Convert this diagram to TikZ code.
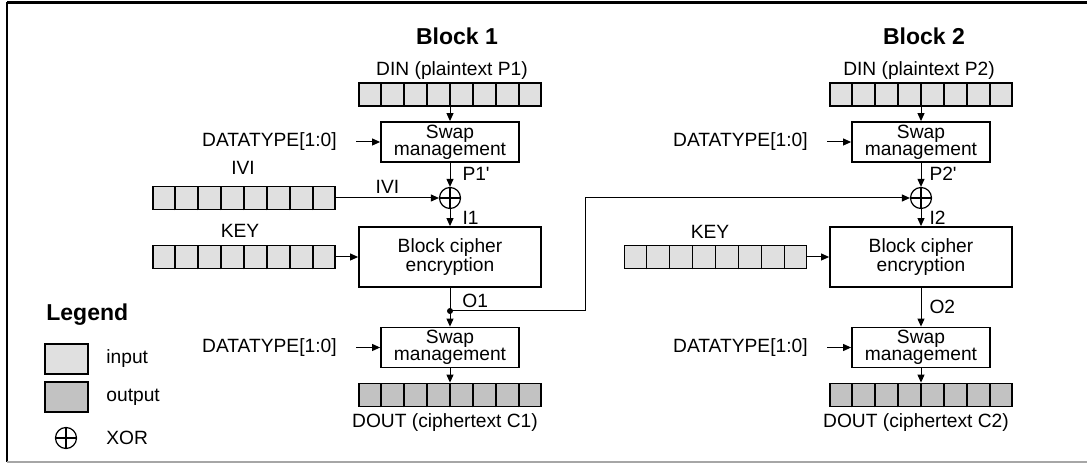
\documentclass[tikz,border=0pt]{standalone}
\usepackage{fontspec}
\setmainfont{Liberation Sans}
\usepackage{tikz}
\usetikzlibrary{%
  calc,%
  arrows.meta%
}
\definecolor{ingray}{gray}{0.88}
\definecolor{outgray}{gray}{0.76}
\definecolor{framegray}{gray}{0.65}
\tikzset{
  reg/.style={draw,line width=0.9pt,minimum width=91pt,minimum height=11.5pt,inner sep=0pt},
  unit/.style={draw,line width=0.9pt,fill=white,align=center,inner sep=0pt},
  swapbox/.style={unit,minimum width=69pt,minimum height=20pt,font=\fontsize{9.6}{8.4}\selectfont},
  encbox/.style={unit,minimum width=91pt,minimum height=30pt,font=\fontsize{9.6}{9.4}\selectfont},
  wire/.style={line width=0.5pt,-{Triangle[length=4pt,width=3.5pt]}},
  xorgate/.style={circle,draw,line width=0.6pt,minimum size=10.5pt,inner sep=0pt,
    path picture={\draw[line width=0.6pt] (path picture bounding box.north)--(path picture bounding box.south)
      (path picture bounding box.west)--(path picture bounding box.east);}},
  lbl/.style={font=\fontsize{9.6}{10}\selectfont,inner sep=0pt},
  title/.style={font=\fontsize{11.5}{13}\selectfont\bfseries,inner sep=0pt}
}
\newcommand{\drawcells}[1]{\foreach \i in {1,...,7}{\draw[line width=0.9pt] ($(#1.south west)!\i/8!(#1.south east)$) -- ($(#1.north west)!\i/8!(#1.north east)$);}}

\begin{document}
\begin{tikzpicture}[x=0.5pt,y=-0.5pt]
\useasboundingbox (0,0) rectangle (1087,464);
% frame
\draw[line width=1.5pt] (1087,3) -- (7,3);
\draw[line width=1pt] (7,2.5) -- (7,462);
\draw[framegray,line width=1pt] (7,462.5) -- (1087,462.5);

% block 1
\node[title] (blk1) at (457,36) {Block 1};
\node[lbl] (din1lbl) at (452,71) {DIN (plaintext P1)};
\node[reg,fill=ingray] (din1) at (450,94.5) {};\drawcells{din1}
\node[swapbox] (swapa1) at (450,142) {Swap\\management};
\node[lbl,anchor=east] (dta1) at (337,142) {DATATYPE[1:0]};
\node[xorgate] (xor1) at (450,198) {};
\node[reg,fill=ingray] (ivi1) at (244,198) {};\drawcells{ivi1}
\node[lbl] (ivi1lbl) at (243,168) {IVI};
\node[encbox] (enc1) at (450,257) {Block cipher\\encryption};
\node[reg,fill=ingray] (key1) at (244,257) {};\drawcells{key1}
\node[lbl] (key1lbl) at (240,231) {KEY};
\node[circle,fill,inner sep=0pt,minimum size=3pt] (o1) at (450,311) {};
\node[swapbox] (swapb1) at (450,347.5) {Swap\\management};
\node[lbl,anchor=east] (dtb1) at (337,347.5) {DATATYPE[1:0]};
\node[reg,fill=outgray] (dout1) at (450,395) {};\drawcells{dout1}
\node[lbl] (dout1lbl) at (445,423) {DOUT (ciphertext C1)};

\draw[wire] (din1.south) -- (swapa1.north);
\draw[wire] ([xshift=9.5pt]dta1.east) -- (swapa1.west);
\draw[wire] (swapa1.south) -- (xor1.north) node[lbl,anchor=west,pos=0.45,xshift=6pt] {P1\textquotesingle};
\draw[wire] (ivi1.east) -- (xor1.west) node[lbl,pos=0.5,yshift=5.5pt] {IVI};
\draw[wire] (xor1.south) -- (enc1.north) node[lbl,anchor=west,pos=0.5,xshift=6pt] {I1};
\draw[wire] (key1.east) -- (enc1.west);
\draw (enc1.south) -- (o1.center) node[lbl,anchor=west,pos=0.55,xshift=6pt] {O1};
\draw[wire] (o1.center) -- (swapb1.north);
\draw[wire] ([xshift=9.5pt]dtb1.east) -- (swapb1.west);
\draw[wire] (swapb1.south) -- (dout1.north);

% block 2
\node[title] (blk2) at (924,36) {Block 2};
\node[lbl] (din2lbl) at (919,71) {DIN (plaintext P2)};
\node[reg,fill=ingray] (din2) at (921,94.5) {};\drawcells{din2}
\node[swapbox] (swapa2) at (921,142) {Swap\\management};
\node[lbl,anchor=east] (dta2) at (808,142) {DATATYPE[1:0]};
\node[xorgate] (xor2) at (921,198) {};
\node[encbox] (enc2) at (921,257) {Block cipher\\encryption};
\node[reg,fill=ingray] (key2) at (715.5,257) {};\drawcells{key2}
\node[lbl] (key2lbl) at (710,232) {KEY};
\node[swapbox] (swapb2) at (921,347.5) {Swap\\management};
\node[lbl,anchor=east] (dtb2) at (808,347.5) {DATATYPE[1:0]};
\node[reg,fill=outgray] (dout2) at (921,395) {};\drawcells{dout2}
\node[lbl] (dout2lbl) at (916,423) {DOUT (ciphertext C2)};

\draw[wire] (din2.south) -- (swapa2.north);
\draw[wire] ([xshift=9.5pt]dta2.east) -- (swapa2.west);
\draw[wire] (swapa2.south) -- (xor2.north) node[lbl,anchor=west,pos=0.45,xshift=4pt] {P2\textquotesingle};
\draw[wire] (xor2.south) -- (enc2.north) node[lbl,anchor=west,pos=0.5,xshift=4pt] {I2};
\draw[wire] (key2.east) -- (enc2.west);
\draw[wire] (enc2.south) -- (swapb2.north) node[lbl,anchor=west,pos=0.5,xshift=4pt] {O2};
\draw[wire] ([xshift=9.5pt]dtb2.east) -- (swapb2.west);
\draw[wire] (swapb2.south) -- (dout2.north);

% chaining O1 to block 2
\coordinate (fb) at (585,0);
\draw[wire] (o1.center) -- (o1 -| fb) -- (fb |- xor2) -- (xor2.west);

% legend
\node[title,anchor=west] (lgd) at (46,315) {Legend};
\node[draw,line width=0.9pt,fill=ingray,minimum width=21.5pt,minimum height=15pt] (lgin) at (66.5,359) {};
\node[draw,line width=0.9pt,fill=outgray,minimum width=21.5pt,minimum height=15pt] (lgout) at (66.5,397) {};
\node[xorgate] (lgxor) at (66,438) {};
\node[lbl,anchor=west] at (106,359) {input};
\node[lbl,anchor=west] at (106,397) {output};
\node[lbl,anchor=west] at (106,438) {XOR};
\end{tikzpicture}
\end{document}
